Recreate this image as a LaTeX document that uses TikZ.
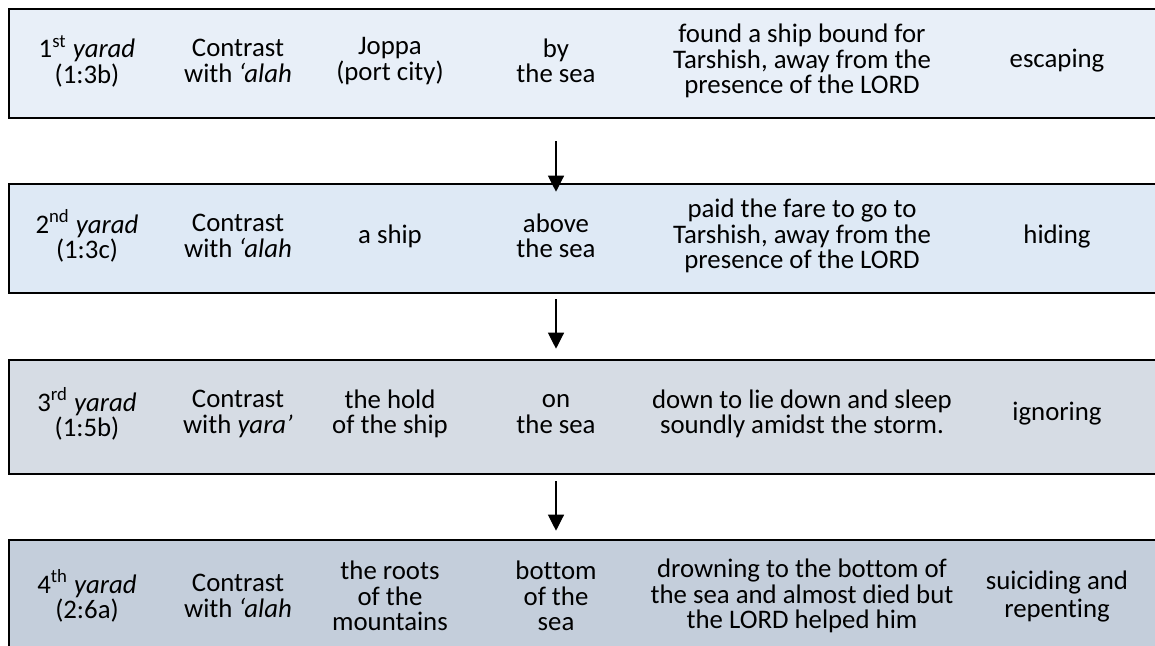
\documentclass[tikz,border=0pt]{standalone}
\usepackage{fontspec}
\setmainfont{Carlito}[Ligatures=NoCommon]
\usetikzlibrary{arrows.meta, positioning, calc}
\definecolor{rowone}{RGB}{232,239,248}
\definecolor{rowtwo}{RGB}{222,233,245}
\definecolor{rowthree}{RGB}{214,220,228}
\definecolor{rowfour}{RGB}{196,206,219}

\begin{document}
\begin{tikzpicture}[
        x=0.5pt, y=-0.5pt,
        row/.style={rectangle, draw=black, line width=1.3pt, minimum width=578pt, inner sep=0pt},
        cell/.style={align=center, inner sep=0pt, font=\fontsize{13.4}{12.7}\selectfont},
        arrow/.style={-{Triangle[width=8pt,length=8pt]}, line width=0.6pt, black}
    ]
        \useasboundingbox (0,0) rectangle (1155,645);
        \clip (0,0) rectangle (1155,645);
        % the four rows
        \node[row, fill=rowone, minimum height=54.5pt] (r1) at (587,63.5) {};
        \node[row, fill=rowtwo, minimum height=54.5pt] (r2) at (587,238.5) {};
        \node[row, fill=rowthree, minimum height=57pt] (r3) at (587,417) {};
        \node[row, fill=rowfour, minimum height=60pt] (r4) at (587,600) {};
        % row 1
        \node[cell] (r1c1) at (87,61) {1\textsuperscript{st} \textit{yarad}\\(1:3b)};
        \node[cell] (r1c2) at (238,61) {Contrast\\with \textit{‘alah}};
        \node[cell] (r1c3) at (390,61) {Joppa\\(port city)};
        \node[cell] (r1c4) at (556,61) {by\\the sea};
        \node[cell] (r1c5) at (802,61) {found a ship bound for\\Tarshish, away from the\\presence of the LORD};
        \node[cell] (r1c6) at (1057,61) {escaping};
        % row 2
        \node[cell] (r2c1) at (87,236) {2\textsuperscript{nd} \textit{yarad}\\(1:3c)};
        \node[cell] (r2c2) at (238,236) {Contrast\\with \textit{‘alah}};
        \node[cell] (r2c3) at (390,236) {a ship};
        \node[cell] (r2c4) at (556,236) {above\\the sea};
        \node[cell] (r2c5) at (802,236) {paid the fare to go to\\Tarshish, away from the\\presence of the LORD};
        \node[cell] (r2c6) at (1057,236) {hiding};
        % row 3
        \node[cell] (r3c1) at (87,414) {3\textsuperscript{rd} \textit{yarad}\\(1:5b)};
        \node[cell] (r3c2) at (238,414) {Contrast\\with \textit{yara’}};
        \node[cell] (r3c3) at (390,414) {the hold\\of the ship};
        \node[cell] (r3c4) at (556,414) {on\\the sea};
        \node[cell] (r3c5) at (802,414) {down to lie down and sleep\\soundly amidst the storm.};
        \node[cell] (r3c6) at (1057,414) {ignoring};
        % row 4
        \node[cell] (r4c1) at (87,596) {4\textsuperscript{th} \textit{yarad}\\(2:6a)};
        \node[cell] (r4c2) at (238,596) {Contrast\\with \textit{‘alah}};
        \node[cell] (r4c3) at (390,596) {the roots\\of the\\mountains};
        \node[cell] (r4c4) at (556,596) {bottom\\of the\\sea};
        \node[cell] (r4c5) at (802,596) {drowning to the bottom of\\the sea and almost died but\\the LORD helped him};
        \node[cell, font=\fontsize{13.4}{14}\selectfont] (r4c6) at (1057,596) {suiciding and\\repenting};
        % arrows between rows
        \draw[arrow, shorten <=11pt, shorten >=-4.5pt] (r1.south -| r1c4) -- (r2.north -| r1c4);
        \draw[arrow, shorten <=2.5pt, shorten >=5pt] (r2.south -| r2c4) -- (r3.north -| r2c4);
        \draw[arrow, shorten <=3pt, shorten >=4pt] (r3.south -| r3c4) -- (r4.north -| r3c4);
\end{tikzpicture}
\end{document}
